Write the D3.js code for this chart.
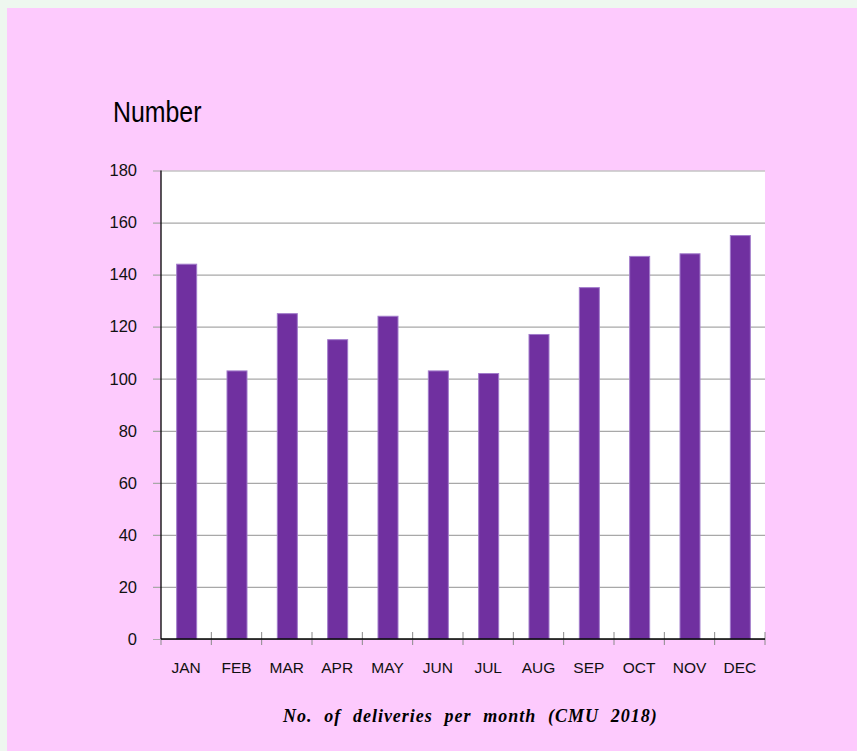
<!DOCTYPE html>
<html>
<head>
<meta charset="utf-8">
<script src="https://cdn.jsdelivr.net/npm/d3@7"></script>
<style>
  html, body { margin: 0; padding: 0; background: #eef7ef; }
  svg { display: block; }
</style>
</head>
<body>
<svg id="chart" width="857" height="751"></svg>
<script>
// Monthly deliveries, CMU 2018
const months = ["JAN","FEB","MAR","APR","MAY","JUN","JUL","AUG","SEP","OCT","NOV","DEC"];
const deliveries = [144, 103, 125, 115, 124, 103, 102, 117, 135, 147, 148, 155];
const yTicks = [0, 20, 40, 60, 80, 100, 120, 140, 160, 180];

const svg = d3.select("#chart");
const W = 857, H = 751;
const sans = "Arial, 'Liberation Sans', sans-serif";

// pink panel
svg.append("rect").attr("x", 7).attr("y", 8).attr("width", W - 7).attr("height", H - 8)
  .attr("fill", "#fdcafd");

const plot = { left: 161, right: 765, top: 170.5, bottom: 639 };

const x = d3.scaleBand().domain(months).range([plot.left, plot.right]).paddingInner(0).paddingOuter(0);
const y = d3.scaleLinear().domain([0, 180]).range([plot.bottom, plot.top]);

// plot background
svg.append("rect")
  .attr("x", plot.left).attr("y", plot.top)
  .attr("width", plot.right - plot.left).attr("height", plot.bottom - plot.top)
  .attr("fill", "#ffffff");

// horizontal gridlines with left ticks
const yAxis = d3.axisLeft(y).tickValues(yTicks).tickSize(-(plot.right - plot.left)).tickSizeOuter(0).tickPadding(24);
const gy = svg.append("g").attr("transform", `translate(${plot.left},0)`).call(yAxis);
gy.select(".domain").remove();
gy.selectAll(".tick line").attr("x1", -8).attr("stroke", "#a8a8a8").attr("stroke-width", 1.2);
gy.selectAll(".tick text")
  .attr("font-family", sans)
  .attr("font-size", 16.5).attr("fill", "#111");

// bars
svg.append("g").selectAll("rect").data(months).join("rect")
  .attr("x", d => x(d) + x.bandwidth() / 2 - 9.5)
  .attr("width", 20)
  .attr("y", (d, i) => y(deliveries[i]))
  .attr("height", (d, i) => y(0) - y(deliveries[i]))
  .attr("fill", "#7030a0")
  .attr("stroke", "#a27ccb").attr("stroke-width", 1);

// left axis line
svg.append("line").attr("x1", plot.left).attr("x2", plot.left)
  .attr("y1", plot.top).attr("y2", plot.bottom).attr("stroke", "#000").attr("stroke-width", 1.3);

// bottom axis with category separators
const xAxis = d3.axisBottom(x).tickSize(0).tickPadding(23);
const gx = svg.append("g").attr("transform", `translate(0,${plot.bottom})`).call(xAxis);
gx.select(".domain").remove();
gx.selectAll(".tick text")
  .attr("font-family", sans)
  .attr("font-size", 15.5).attr("fill", "#111");

const sepX = months.map(m => x(m)).concat([plot.right]);
svg.append("g").selectAll("line").data(sepX).join("line")
  .attr("x1", d => d).attr("x2", d => d)
  .attr("y1", (d, i) => i === 0 ? plot.bottom : plot.bottom - 7)
  .attr("y2", plot.bottom + 6)
  .attr("stroke", "#8a8a8a").attr("stroke-width", 1);

svg.append("line").attr("x1", plot.left).attr("x2", plot.right)
  .attr("y1", plot.bottom).attr("y2", plot.bottom).attr("stroke", "#000").attr("stroke-width", 1.3);

// axis title (narrow sans)
svg.append("text").attr("transform", "translate(113,122) scale(0.83,1)")
  .attr("font-family", sans)
  .attr("font-size", 30).attr("fill", "#000")
  .text("Number");

// caption
svg.append("text").attr("x", 283).attr("y", 722)
  .attr("font-family", "'Liberation Serif', 'Times New Roman', serif")
  .attr("font-style", "italic").attr("font-weight", "bold")
  .attr("font-size", 18).attr("fill", "#000")
  .attr("letter-spacing", 1).attr("word-spacing", 6.2)
  .text("No. of deliveries per month (CMU 2018)");
</script>
</body>
</html>
